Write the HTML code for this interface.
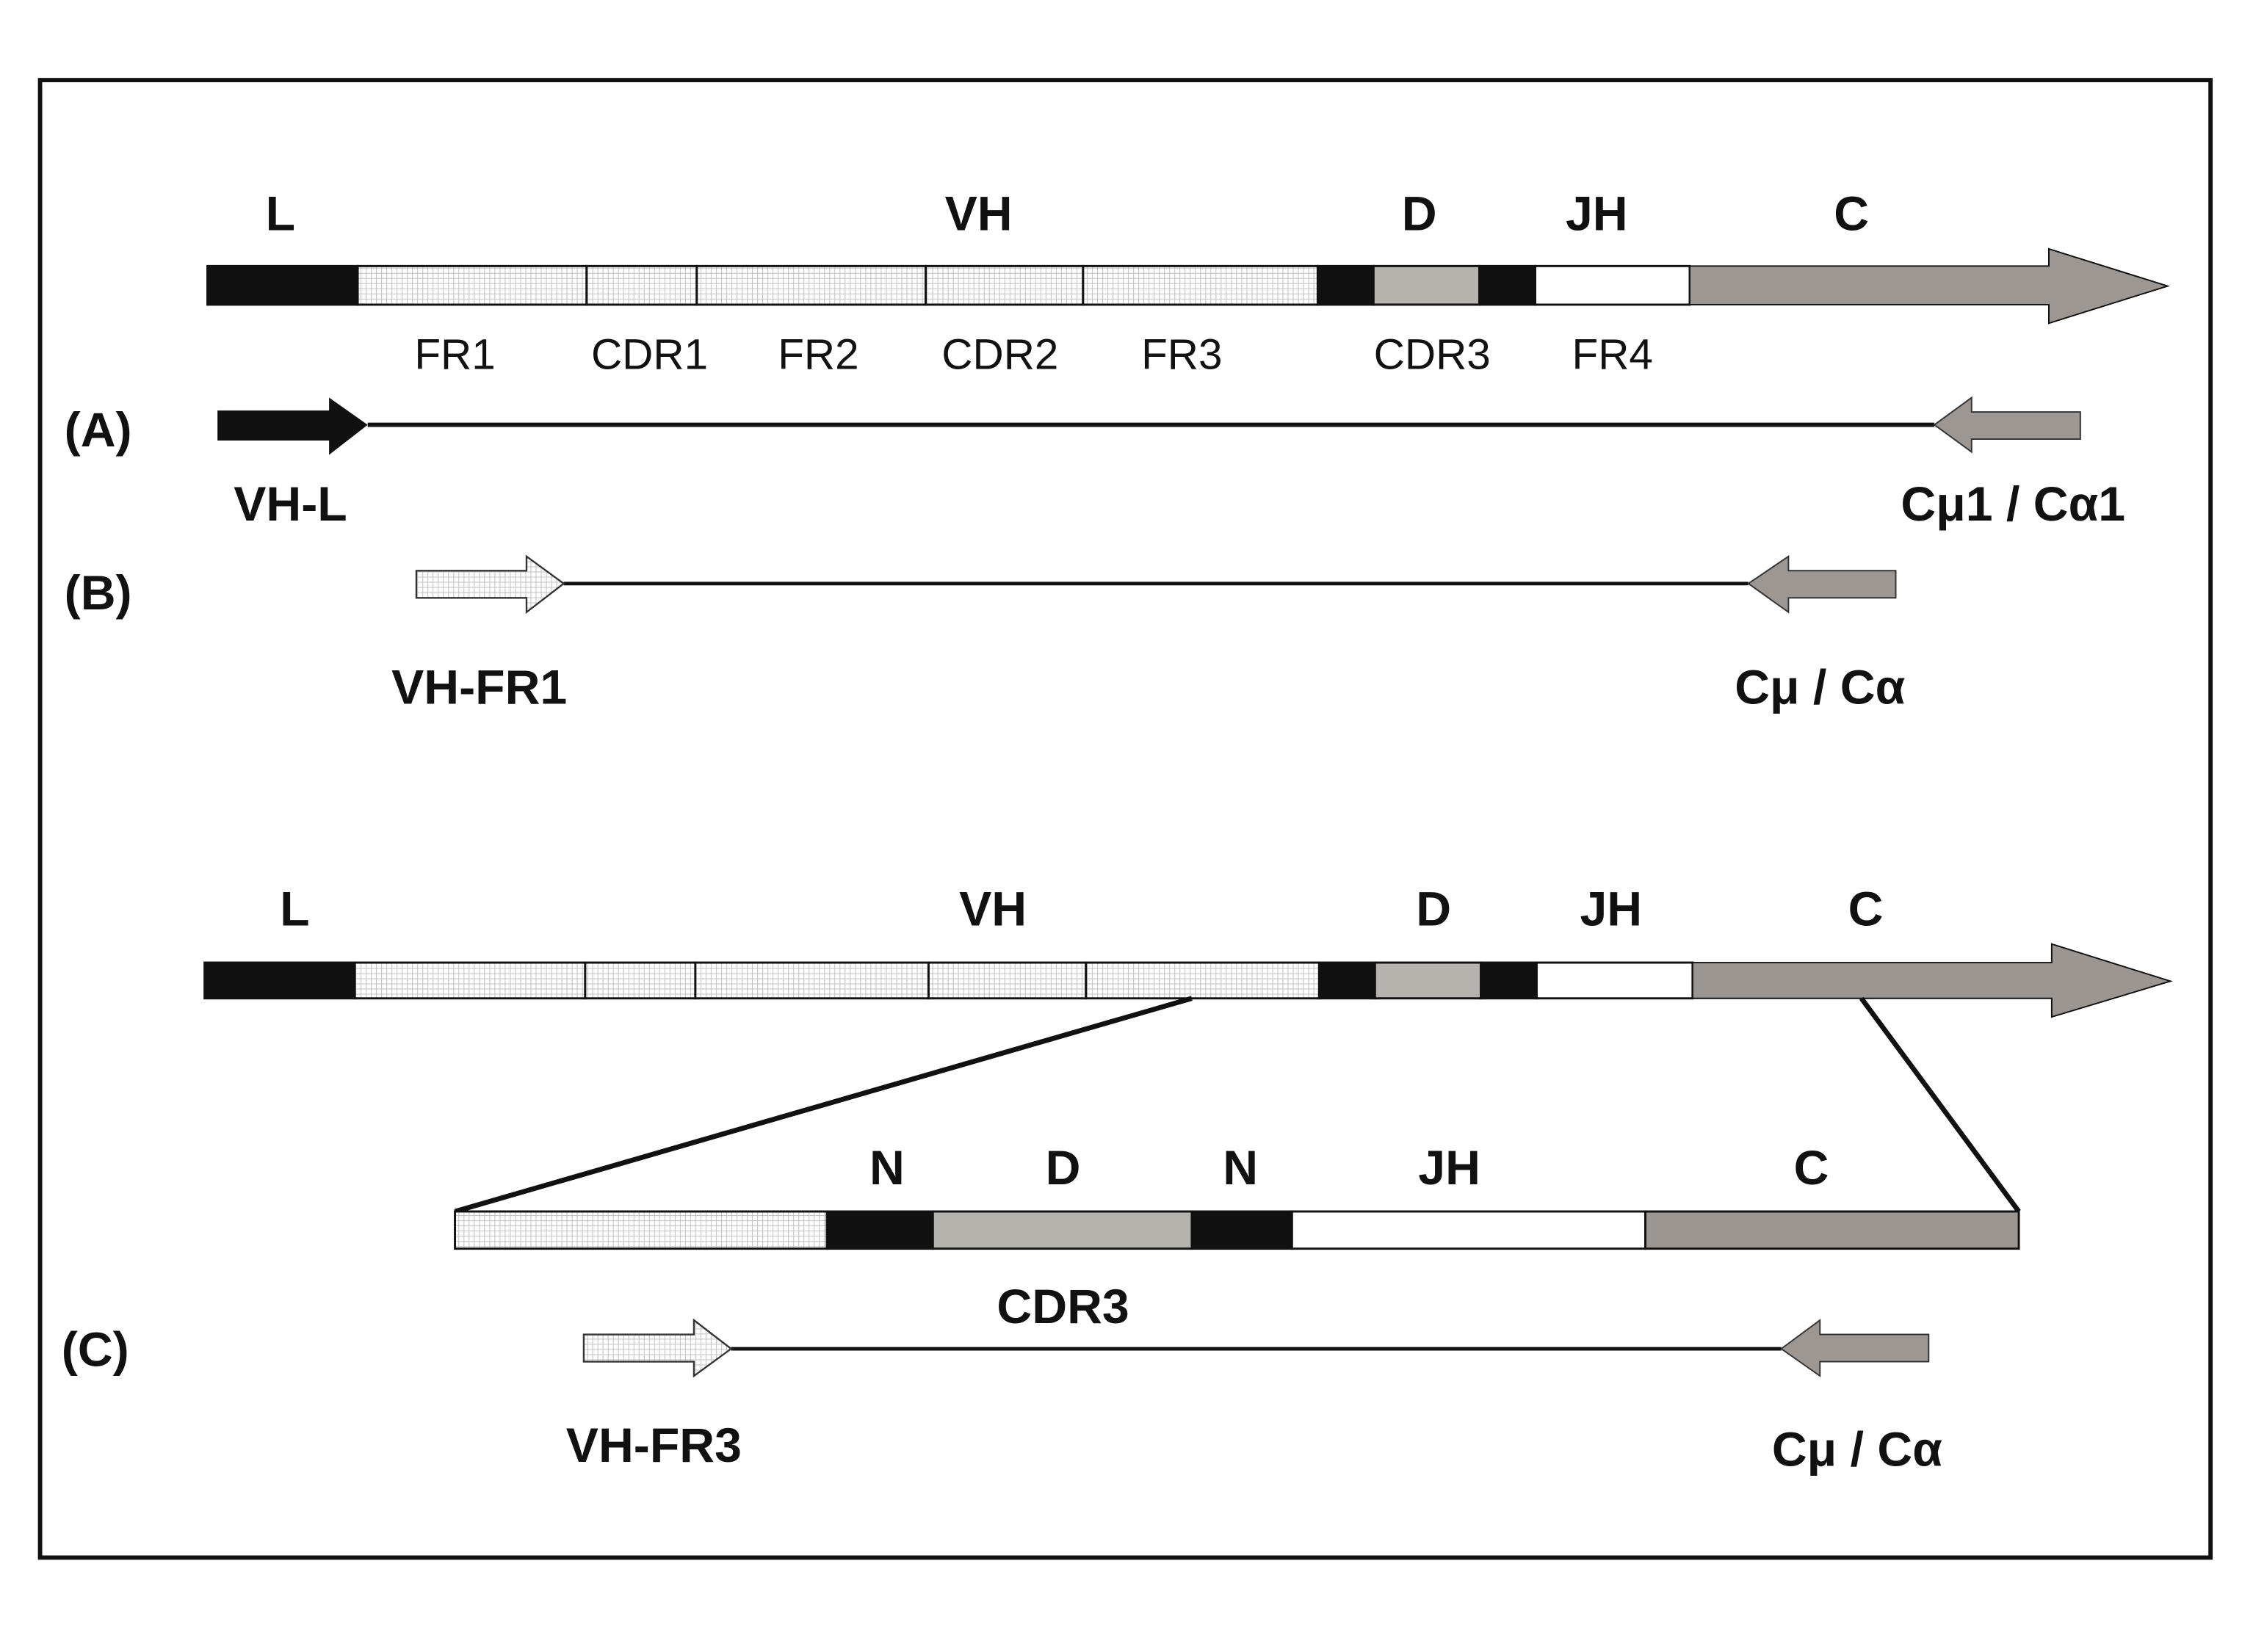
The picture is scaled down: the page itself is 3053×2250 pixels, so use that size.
<!DOCTYPE html>
<html><head><style>html,body{margin:0;padding:0;background:#fff}svg{display:block}</style></head>
<body>
<svg width="3053" height="2250" viewBox="0 0 1567 1155" preserveAspectRatio="none" xmlns="http://www.w3.org/2000/svg" font-family="Liberation Sans, sans-serif">
<defs>
<pattern id="g" width="3.6" height="3.6" patternUnits="userSpaceOnUse">
<rect width="3.6" height="3.6" fill="#fff"/>
<path d="M0 0H3.6M0 0V3.6" stroke="#c4c4c4" stroke-width="1.1"/>
</pattern>
</defs>
<rect x="28" y="56" width="1517" height="1033" fill="#fff" stroke="#111" stroke-width="3"/>
<g font-weight="bold" font-size="34" text-anchor="middle" fill="#111">
<text x="196" y="161">L</text><text x="684" y="161">VH</text><text x="992" y="161">D</text><text x="1116" y="161">JH</text><text x="1294" y="161">C</text>
</g>
<g stroke="#111" stroke-width="1.5">
<rect x="145" y="186" width="105" height="27" fill="#111"/>
<rect x="250" y="186" width="160" height="27" fill="url(#g)"/>
<rect x="410" y="186" width="77" height="27" fill="url(#g)"/>
<rect x="487" y="186" width="160" height="27" fill="url(#g)"/>
<rect x="647" y="186" width="110" height="27" fill="url(#g)"/>
<rect x="757" y="186" width="164" height="27" fill="url(#g)"/>
<rect x="921" y="186" width="39" height="27" fill="#111"/>
<rect x="960" y="186" width="74" height="27" fill="#b4b3ae"/>
<rect x="1034" y="186" width="39" height="27" fill="#111"/>
<rect x="1073" y="186" width="108" height="27" fill="#fff"/>
<polygon points="1181,186 1432,186 1432,174 1515,200 1432,226 1432,213 1181,213" fill="#9c9793" stroke-width="1"/>
</g>
<g font-size="30" text-anchor="middle" fill="#111">
<text x="318" y="258">FR1</text><text x="454" y="258">CDR1</text><text x="572" y="258">FR2</text><text x="699" y="258">CDR2</text><text x="826" y="258">FR3</text><text x="1001" y="258">CDR3</text><text x="1127" y="258">FR4</text>
</g>
<g font-weight="bold" font-size="34" fill="#111">
<text x="45" y="312">(A)</text>
<text x="45" y="426">(B)</text>
<text x="43" y="955">(C)</text>
</g>
<line x1="257" y1="297" x2="1352" y2="297" stroke="#111" stroke-width="3"/>
<polygon points="152,287 230,287 230,278 257,297 230,318 230,308 152,308" fill="#111"/>
<polygon points="1352,297 1378,278 1378,288 1454,288 1454,307 1378,307 1378,316" fill="#9c9793" stroke="#333" stroke-width="1"/>
<g font-weight="bold" font-size="34" text-anchor="middle" fill="#111">
<text x="203" y="364">VH-L</text><text x="1407" y="364">Cμ1 / Cα1</text>
<text x="335" y="492">VH-FR1</text><text x="1272" y="492">Cμ / Cα</text>
<text x="457" y="1022">VH-FR3</text><text x="1298" y="1025">Cμ / Cα</text>
</g>
<line x1="394" y1="408" x2="1222" y2="408" stroke="#111" stroke-width="2.5"/>
<polygon points="291,399 368,399 368,389 394,408 368,428 368,418 291,418" fill="url(#g)" stroke="#333" stroke-width="1.2"/>
<polygon points="1222,408 1250,389 1250,399 1325,399 1325,418 1250,418 1250,428" fill="#9c9793" stroke="#333" stroke-width="1"/>
<g font-weight="bold" font-size="34" text-anchor="middle" fill="#111">
<text x="206" y="647">L</text><text x="694" y="647">VH</text><text x="1002" y="647">D</text><text x="1126" y="647">JH</text><text x="1304" y="647">C</text>
</g>
<g stroke="#111" stroke-width="1.5">
<rect x="143" y="673" width="105" height="25" fill="#111"/>
<rect x="248" y="673" width="161" height="25" fill="url(#g)"/>
<rect x="409" y="673" width="77" height="25" fill="url(#g)"/>
<rect x="486" y="673" width="163" height="25" fill="url(#g)"/>
<rect x="649" y="673" width="110" height="25" fill="url(#g)"/>
<rect x="759" y="673" width="163" height="25" fill="url(#g)"/>
<rect x="922" y="673" width="39" height="25" fill="#111"/>
<rect x="961" y="673" width="74" height="25" fill="#b4b3ae"/>
<rect x="1035" y="673" width="39" height="25" fill="#111"/>
<rect x="1074" y="673" width="109" height="25" fill="#fff"/>
<polygon points="1183,673 1434,673 1434,660 1517,686 1434,711 1434,698 1183,698" fill="#9b9692" stroke-width="1"/>
</g>
<line x1="833" y1="698" x2="318" y2="847" stroke="#111" stroke-width="3.5"/>
<line x1="1301" y1="698" x2="1411" y2="847" stroke="#111" stroke-width="3.5"/>
<g font-weight="bold" font-size="34" text-anchor="middle" fill="#111">
<text x="620" y="828">N</text><text x="743" y="828">D</text><text x="867" y="828">N</text><text x="1013" y="828">JH</text><text x="1266" y="828">C</text>
<text x="743" y="925">CDR3</text>
</g>
<g stroke="#111" stroke-width="1.5">
<rect x="318" y="847" width="260" height="26" fill="url(#g)"/>
<rect x="578" y="847" width="74" height="26" fill="#111"/>
<rect x="652" y="847" width="181" height="26" fill="#b4b3ae"/>
<rect x="833" y="847" width="70" height="26" fill="#111"/>
<rect x="903" y="847" width="247" height="26" fill="#fff"/>
<rect x="1150" y="847" width="261" height="26" fill="#9b9692"/>
</g>
<line x1="511" y1="943" x2="1245" y2="943" stroke="#111" stroke-width="2.5"/>
<polygon points="408,933 485,933 485,923 511,943 485,962 485,952 408,952" fill="url(#g)" stroke="#333" stroke-width="1.2"/>
<polygon points="1245,943 1272,923 1272,933 1348,933 1348,952 1272,952 1272,962" fill="#9c9793" stroke="#333" stroke-width="1"/>
</svg>
</body></html>
